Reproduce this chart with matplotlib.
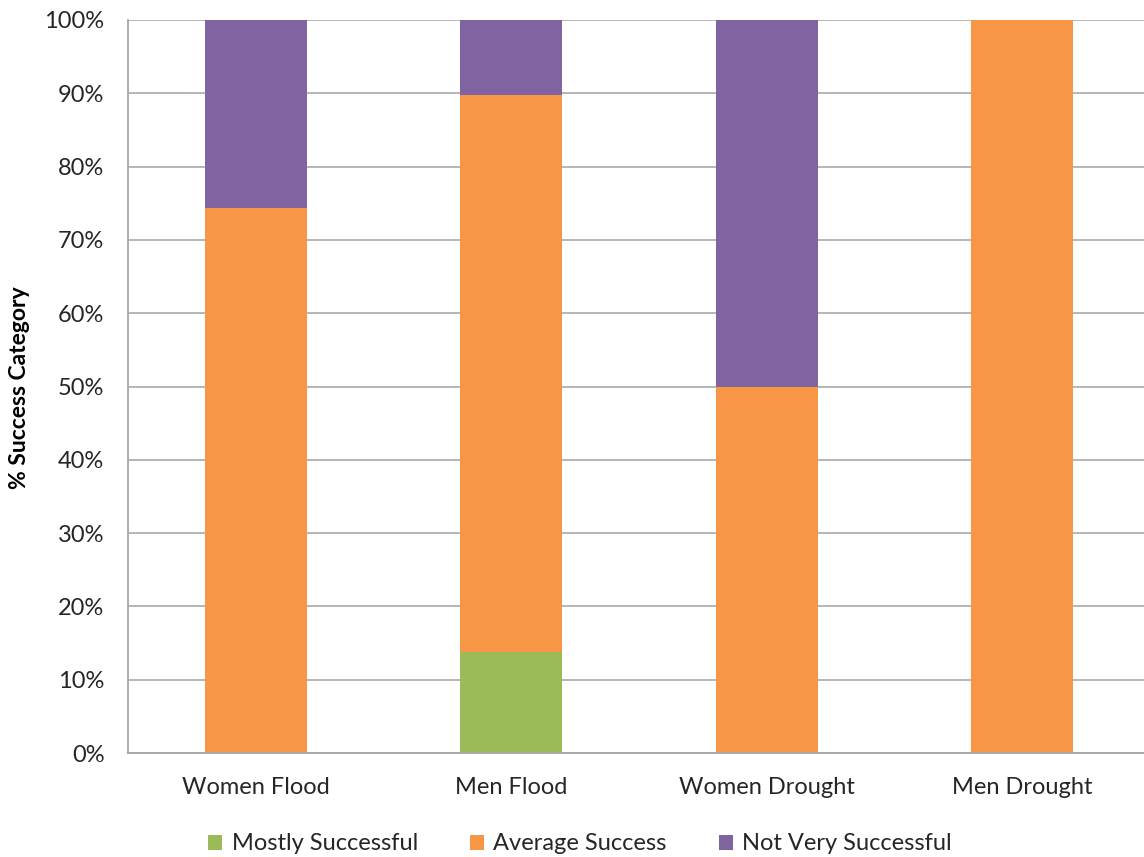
import matplotlib
matplotlib.use("Agg")
import matplotlib.pyplot as plt
from matplotlib.ticker import PercentFormatter, MultipleLocator
import numpy as np

plt.rcParams['font.family'] = ['Lato', 'DejaVu Sans']

groups = ["Women Flood", "Men Flood", "Women Drought", "Men Drought"]
series_names = ["Mostly Successful", "Average Success", "Not Very Successful"]
mostly_successful = [0.0, 13.8, 0.0, 0.0]
average_success = [74.3, 75.9, 50.0, 100.0]
not_very_successful = [25.7, 10.3, 50.0, 0.0]
colors = ["#9BBB59", "#F79646", "#8064A2"]

fig = plt.figure(figsize=(11.44, 8.57), dpi=100)
ax = fig.add_axes([128 / 1144, 104 / 857, 1022 / 1144, 733 / 857])

x = np.arange(len(groups))
bottom = np.zeros(len(groups))
for name, vals, col in zip(series_names,
                           [mostly_successful, average_success, not_very_successful],
                           colors):
    vals = np.array(vals)
    ax.bar(x, vals, width=0.4, bottom=bottom, color=col, label=name,
           edgecolor="none", zorder=2)
    bottom += vals

ax.set_xlim(-0.5, len(groups) - 0.5)
ax.set_ylim(0, 100)
ax.yaxis.set_major_locator(MultipleLocator(10))
ax.yaxis.set_major_formatter(PercentFormatter(decimals=0))
ax.set_xticks(x)
ax.set_xticklabels(groups)
ax.tick_params(axis="both", length=0, labelsize=17, labelcolor="#262626")
ax.tick_params(axis="x", pad=17)
ax.tick_params(axis="y", pad=17)

ax.grid(axis="y", color="#B0B0B0", linewidth=1.3, zorder=0)
for side in ["top", "right"]:
    ax.spines[side].set_visible(False)
for side in ["left", "bottom"]:
    ax.spines[side].set_color("#A6A6A6")
    ax.spines[side].set_linewidth(1.3)

fig.text(20 / 1144, 1 - 388 / 857, "% Success Category", rotation=90,
         ha="center", va="center", fontsize=16.5, fontweight="bold", color="#000000")

handles, labels = ax.get_legend_handles_labels()
fig.legend(handles, labels, loc="center", bbox_to_anchor=(580 / 1144, 1 - 844 / 857),
           ncol=3, frameon=False, fontsize=17, handlelength=0.6, handleheight=0.6,
           handletextpad=0.4, columnspacing=2.2, labelcolor="#262626")

fig.savefig("out.png", dpi=100)
